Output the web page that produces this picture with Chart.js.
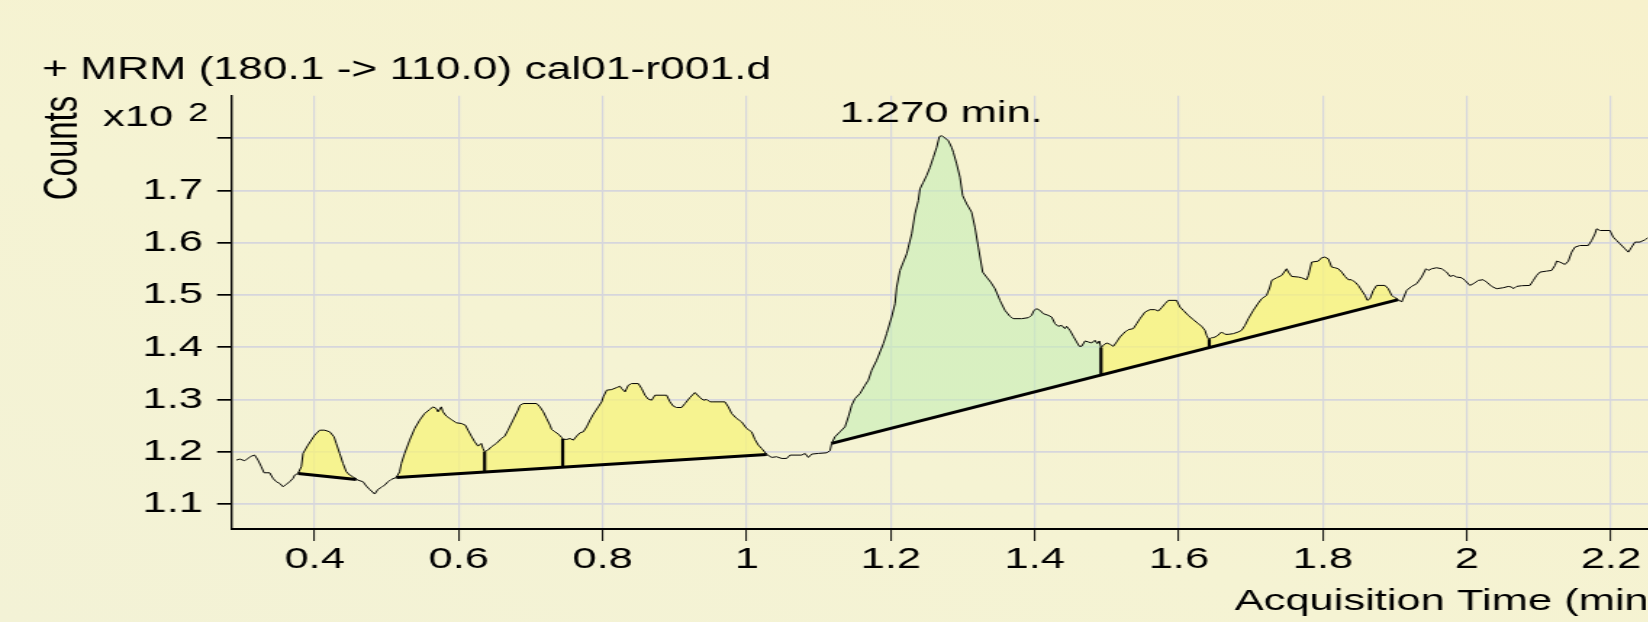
<!DOCTYPE html>
<html>
<head>
<meta charset="utf-8">
<title>MRM cal01-r001.d</title>
<script src="https://cdn.jsdelivr.net/npm/chart.js@4.4.1/dist/chart.umd.min.js"></script>
<style>
  html, body { margin: 0; padding: 0; }
  body {
    width: 1648px; height: 622px; overflow: hidden;
    background: linear-gradient(200deg, #f7f1cc 0%, #f5f3d3 60%, #f3f2d6 100%);
  }
  /* the instrument plot is rendered wide: draw at 1160 and stretch */
  #wrap {
    position: absolute; left: 0; top: 0;
    width: 1160px; height: 622px;
    transform: scaleX(1.45); transform-origin: 0 0;
  }
</style>
</head>
<body>
<div id="wrap"><canvas id="chrom"></canvas></div>
<script>
// trace: acquisition time (min) / counts (x10^2)
const traceTime = [
  0.2912, 0.2958, 0.3028, 0.3120, 0.3167, 0.3213, 0.3259, 0.3296, 0.3375, 0.3421,
  0.3467, 0.3514, 0.3560, 0.3606, 0.3652, 0.3699, 0.3722, 0.3768, 0.3814, 0.3838,
  0.3907, 0.4000, 0.4069, 0.4138, 0.4208, 0.4268, 0.4300, 0.4347, 0.4393, 0.4439,
  0.4486, 0.4532, 0.4578, 0.4624, 0.4671, 0.4717, 0.4763, 0.4833, 0.4879, 0.4925,
  0.4972, 0.5018, 0.5064, 0.5134, 0.5180, 0.5203, 0.5249, 0.5319, 0.5388, 0.5457,
  0.5527, 0.5596, 0.5643, 0.5689, 0.5712, 0.5758, 0.5781, 0.5828, 0.5897, 0.5967,
  0.6036, 0.6092, 0.6129, 0.6175, 0.6221, 0.6267, 0.6314, 0.6337, 0.6360, 0.6406,
  0.6453, 0.6522, 0.6592, 0.6638, 0.6684, 0.6754, 0.6823, 0.6851, 0.6897, 0.7082,
  0.7128, 0.7175, 0.7221, 0.7267, 0.7290, 0.7337, 0.7383, 0.7429, 0.7443, 0.7499,
  0.7545, 0.7591, 0.7637, 0.7684, 0.7730, 0.7776, 0.7822, 0.7869, 0.7938, 0.7985,
  0.8008, 0.8054, 0.8123, 0.8193, 0.8239, 0.8262, 0.8309, 0.8355, 0.8401, 0.8494,
  0.8540, 0.8586, 0.8632, 0.8679, 0.8725, 0.8887, 0.8933, 0.8980, 0.9026, 0.9095,
  0.9142, 0.9211, 0.9280, 0.9350, 0.9396, 0.9442, 0.9489, 0.9535, 0.9697, 0.9743,
  0.9790, 0.9859, 0.9928, 0.9998, 1.0067, 1.0113, 1.0160, 1.0206, 1.0276, 1.0345,
  1.0414, 1.0484, 1.0553, 1.0600, 1.0762, 1.0808, 1.0854, 1.0901, 1.0993, 1.1109,
  1.1155, 1.1178, 1.1224, 1.1294, 1.1363, 1.1410, 1.1456, 1.1502, 1.1572, 1.1641,
  1.1687, 1.1734, 1.1803, 1.1849, 1.1896, 1.1942, 1.2011, 1.2058, 1.2081, 1.2127,
  1.2173, 1.2220, 1.2243, 1.2289, 1.2335, 1.2382, 1.2405, 1.2451, 1.2497, 1.2544,
  1.2590, 1.2636, 1.2673, 1.2706, 1.2752, 1.2798, 1.2844, 1.2868, 1.2914, 1.2960,
  1.2997, 1.3053, 1.3122, 1.3168, 1.3215, 1.3275, 1.3330, 1.3386, 1.3446, 1.3515,
  1.3585, 1.3654, 1.3701, 1.3816, 1.3909, 1.3955, 1.3988, 1.4025, 1.4071, 1.4117,
  1.4187, 1.4233, 1.4279, 1.4325, 1.4372, 1.4418, 1.4441, 1.4487, 1.4534, 1.4580,
  1.4617, 1.4649, 1.4696, 1.4742, 1.4788, 1.4834, 1.4867, 1.4895, 1.4918, 1.4950,
  1.4996, 1.5043, 1.5089, 1.5135, 1.5182, 1.5251, 1.5297, 1.5367, 1.5413, 1.5459,
  1.5529, 1.5598, 1.5668, 1.5714, 1.5760, 1.5807, 1.5853, 1.5969, 1.6015, 1.6061,
  1.6130, 1.6200, 1.6269, 1.6315, 1.6362, 1.6385, 1.6408, 1.6422, 1.6454, 1.6478,
  1.6524, 1.6593, 1.6640, 1.6686, 1.6755, 1.6825, 1.6871, 1.6917, 1.6964, 1.7033,
  1.7102, 1.7149, 1.7218, 1.7264, 1.7288, 1.7357, 1.7426, 1.7496, 1.7519, 1.7565,
  1.7658, 1.7704, 1.7773, 1.7797, 1.7843, 1.7935, 1.7982, 1.8028, 1.8074, 1.8121,
  1.8167, 1.8213, 1.8260, 1.8306, 1.8352, 1.8398, 1.8445, 1.8491, 1.8537, 1.8584,
  1.8616, 1.8653, 1.8699, 1.8745, 1.8861, 1.8907, 1.8954, 1.9000, 1.9046, 1.9093,
  1.9162, 1.9231, 1.9301, 1.9370, 1.9430, 1.9463, 1.9509, 1.9578, 1.9648, 1.9717,
  1.9764, 1.9810, 1.9856, 1.9926, 1.9972, 2.0041, 2.0088, 2.0157, 2.0226, 2.0273,
  2.0342, 2.0412, 2.0504, 2.0574, 2.0620, 2.0643, 2.0689, 2.0759, 2.0874, 2.0921,
  2.0967, 2.1013, 2.1106, 2.1175, 2.1222, 2.1245, 2.1291, 2.1360, 2.1407, 2.1453,
  2.1499, 2.1569, 2.1684, 2.1731, 2.1777, 2.1800, 2.1847, 2.1985, 2.2031, 2.2078,
  2.2124, 2.2193, 2.2240, 2.2286, 2.2332, 2.2402, 2.2471, 2.2513
];
const traceCounts = [
  1.1841, 1.1861, 1.1829, 1.1918, 1.1937, 1.1841, 1.1714, 1.1599, 1.1599, 1.1491,
  1.1428, 1.1396, 1.1332, 1.1377, 1.1428, 1.1491, 1.1555, 1.1587, 1.1714, 1.1969,
  1.2128, 1.2319, 1.2414, 1.2414, 1.2383, 1.2287, 1.2160, 1.1969, 1.1778, 1.1619,
  1.1555, 1.1523, 1.1472, 1.1447, 1.1428, 1.1345, 1.1281, 1.1192, 1.1281, 1.1319,
  1.1364, 1.1428, 1.1472, 1.1510, 1.1619, 1.1778, 1.1969, 1.2224, 1.2446, 1.2606,
  1.2733, 1.2809, 1.2860, 1.2828, 1.2765, 1.2860, 1.2765, 1.2682, 1.2618, 1.2555,
  1.2542, 1.2510, 1.2414, 1.2300, 1.2192, 1.2109, 1.2160, 1.2065, 1.2001, 1.2033,
  1.2096, 1.2160, 1.2255, 1.2300, 1.2414, 1.2606, 1.2797, 1.2892, 1.2924, 1.2924,
  1.2860, 1.2765, 1.2637, 1.2510, 1.2427, 1.2383, 1.2338, 1.2275, 1.2243, 1.2236,
  1.2255, 1.2224, 1.2300, 1.2364, 1.2383, 1.2478, 1.2606, 1.2720, 1.2860, 1.2956,
  1.3051, 1.3179, 1.3191, 1.3230, 1.3255, 1.3210, 1.3147, 1.3274, 1.3306, 1.3306,
  1.3210, 1.3083, 1.3007, 1.2988, 1.3083, 1.3083, 1.2956, 1.2873, 1.2848, 1.2848,
  1.2924, 1.3039, 1.3134, 1.3039, 1.2988, 1.3001, 1.2956, 1.2956, 1.2956, 1.2860,
  1.2733, 1.2637, 1.2574, 1.2446, 1.2383, 1.2236, 1.2128, 1.2064, 1.1950, 1.1893,
  1.1905, 1.1873, 1.1873, 1.1937, 1.1937, 1.1969, 1.1893, 1.1956, 1.1969, 1.1981,
  1.2020, 1.2160, 1.2287, 1.2383, 1.2478, 1.2669, 1.2892, 1.3019, 1.3115, 1.3274,
  1.3370, 1.3561, 1.3752, 1.3911, 1.4070, 1.4261, 1.4579, 1.4834, 1.5152, 1.5471,
  1.5630, 1.5789, 1.5917, 1.6171, 1.6553, 1.6808, 1.7031, 1.7158, 1.7286, 1.7445,
  1.7636, 1.7827, 1.8031, 1.8050, 1.8005, 1.7954, 1.7827, 1.7731, 1.7509, 1.7254,
  1.6904, 1.6744, 1.6585, 1.6299, 1.5917, 1.5439, 1.5343, 1.5248, 1.5121, 1.4898,
  1.4707, 1.4592, 1.4548, 1.4548, 1.4567, 1.4611, 1.4707, 1.4739, 1.4707, 1.4643,
  1.4611, 1.4579, 1.4452, 1.4401, 1.4420, 1.4357, 1.4401, 1.4325, 1.4210, 1.4102,
  1.4019, 1.4019, 1.4121, 1.4102, 1.4083, 1.4134, 1.4070, 1.4121, 1.3994, 1.4038,
  1.4083, 1.4057, 1.4019, 1.4102, 1.4197, 1.4293, 1.4337, 1.4357, 1.4452, 1.4548,
  1.4675, 1.4720, 1.4720, 1.4694, 1.4758, 1.4834, 1.4898, 1.4898, 1.4770, 1.4707,
  1.4611, 1.4529, 1.4452, 1.4401, 1.4325, 1.4229, 1.4166, 1.4153, 1.4185, 1.4185,
  1.4210, 1.4293, 1.4248, 1.4248, 1.4261, 1.4293, 1.4325, 1.4420, 1.4548, 1.4707,
  1.4847, 1.4930, 1.4993, 1.5153, 1.5280, 1.5331, 1.5375, 1.5503, 1.5439, 1.5356,
  1.5344, 1.5331, 1.5293, 1.5375, 1.5630, 1.5649, 1.5713, 1.5726, 1.5694, 1.5535,
  1.5522, 1.5503, 1.5439, 1.5356, 1.5293, 1.5293, 1.5248, 1.5184, 1.5089, 1.4993,
  1.4898, 1.4930, 1.5089, 1.5184, 1.5184, 1.5121, 1.4993, 1.4949, 1.4911, 1.4866,
  1.5089, 1.5165, 1.5216, 1.5344, 1.5503, 1.5471, 1.5503, 1.5522, 1.5503, 1.5439,
  1.5356, 1.5375, 1.5344, 1.5331, 1.5280, 1.5184, 1.5216, 1.5280, 1.5293, 1.5248,
  1.5165, 1.5121, 1.5140, 1.5165, 1.5153, 1.5121, 1.5165, 1.5178, 1.5184, 1.5280,
  1.5375, 1.5439, 1.5458, 1.5471, 1.5566, 1.5649, 1.5630, 1.5585, 1.5649, 1.5821,
  1.5917, 1.5948, 1.5948, 1.6044, 1.6171, 1.6267, 1.6235, 1.6235, 1.6108, 1.6044,
  1.5981, 1.5886, 1.5821, 1.5917, 1.6013, 1.6013, 1.6057, 1.6096
];

// integrated peaks (start/end time), which baseline they sit on
const peakStart = [0.3768, 0.5134, 1.1178, 1.4918];
const peakEnd   = [0.4578, 1.0276, 1.4918, 1.9046];
const peakKind  = ['other', 'other', 'target', 'other'];
const peakBase  = [0, 1, 2, 2];

// integration baselines
const baseStartTime = [0.3768, 0.5134, 1.1178];
const baseEndTime   = [0.4578, 1.0276, 1.9046];
const baseStartVal  = [1.1587, 1.1510, 1.2160];
const baseEndVal    = [1.1472, 1.1950, 1.4911];

// drop lines between merged peaks
const splitTime = [0.6360, 0.7443, 1.4918, 1.6422];
const splitTop  = [1.2001, 1.2243, 1.3994, 1.4153];
const splitBase = [1.1620, 1.1708, 1.3475, 1.4000];

const xTicks = [0.4, 0.6, 0.8, 1, 1.2, 1.4, 1.6, 1.8, 2, 2.2];
const xTickLabels = ['0.4', '0.6', '0.8', '1', '1.2', '1.4', '1.6', '1.8', '2', '2.2'];
const yTicks = [1.1, 1.2, 1.3, 1.4, 1.5, 1.6, 1.7, 1.8];
const yTickLabels = ['1.1', '1.2', '1.3', '1.4', '1.5', '1.6', '1.7', ''];

const apexTime = 1.270;
const apexLabel = '1.270 min.';
const chartTitle = '+ MRM (180.1 -> 110.0) cal01-r001.d';

const FONT = "'Liberation Sans', Arial, sans-serif";
const GRID = '#d6d6dc';
const YELLOW = 'rgba(247, 243, 118, 0.72)';
const GREEN = 'rgba(198, 238, 182, 0.62)';

// --- datasets ---
const tracePts = traceTime.map((t, i) => ({ x: t, y: traceCounts[i] }));
const datasets = [];

datasets.push({
    label: 'trace',
    data: tracePts,
    borderColor: '#000',
    borderWidth: 1,
    pointRadius: 0,
    tension: 0,
    fill: false
});

const splitPts = [];
splitTime.forEach((t, i) => {
    splitPts.push({ x: t, y: splitTop[i] }, { x: t, y: splitBase[i] }, { x: t, y: null });
});
datasets.push({
    label: 'splits',
    data: splitPts,
    borderColor: '#000',
    borderWidth: 2.2,
    borderCapStyle: 'butt',
    pointRadius: 0,
    spanGaps: false,
    fill: false
});

const baseIndex = [];
baseStartTime.forEach((t, i) => {
    baseIndex.push(datasets.length);
    datasets.push({
        label: 'baseline ' + i,
        data: [{ x: t, y: baseStartVal[i] }, { x: baseEndTime[i], y: baseEndVal[i] }],
        borderColor: '#000',
        borderWidth: 3,
        pointRadius: 0,
        fill: false
    });
});

peakStart.forEach((t0, i) => {
    datasets.push({
        label: 'peak ' + i,
        data: tracePts.filter(p => p.x >= t0 && p.x <= peakEnd[i]),
        borderColor: 'rgba(0,0,0,0)',
        borderWidth: 1,
        backgroundColor: peakKind[i] === 'target' ? GREEN : YELLOW,
        pointRadius: 0,
        fill: { target: baseIndex[peakBase[i]] }
    });
});

// x10^2 multiplier and RT label
const chromLabels = {
    id: 'chromLabels',
    afterDraw(chart) {
        const { ctx, chartArea, scales: { x, y } } = chart;
        ctx.save();
        ctx.fillStyle = '#000';
        ctx.textBaseline = 'middle';
        ctx.textAlign = 'left';
        ctx.font = `30px ${FONT}`;
        ctx.fillText('x10', chartArea.left - 89, chartArea.top + 22.3);
        ctx.font = `25px ${FONT}`;
        ctx.fillText('2', chartArea.left - 30.3, chartArea.top + 18.4);

        const apexVal = Math.max(...traceCounts);
        ctx.font = `30px ${FONT}`;
        ctx.textAlign = 'center';
        ctx.fillText(apexLabel, x.getPixelForValue(apexTime), y.getPixelForValue(apexVal) - 22);
        ctx.restore();
    }
};

const tickFont = { family: FONT, size: 30 };

new Chart(document.getElementById('chrom'), {
    type: 'line',
    data: { datasets },
    plugins: [chromLabels],
    options: {
        responsive: true,
        maintainAspectRatio: false,
        animation: false,
        devicePixelRatio: 1,
        events: [],
        layout: { padding: { left: 29, right: 13, top: 0, bottom: 0 } },
        scales: {
            x: {
                type: 'linear',
                min: 0.2852,
                max: 2.2724,
                afterBuildTicks: s => { s.ticks = xTicks.map(v => ({ value: v })); },
                afterFit: s => { s.height = 93; },
                grid: { color: GRID, lineWidth: 1.2, tickColor: '#000', tickWidth: 1, tickLength: 12 },
                border: { display: true, color: '#000', width: 2 },
                ticks: {
                    font: tickFont, color: '#000', padding: 1,
                    maxRotation: 0, autoSkip: false,
                    callback: (v, i) => xTickLabels[i]
                },
                title: {
                    display: true, text: 'Acquisition Time (min)', align: 'end',
                    font: tickFont, color: '#000', padding: { top: 0, bottom: 2 }
                }
            },
            y: {
                type: 'linear',
                min: 1.0523,
                max: 1.8814,
                afterBuildTicks: s => { s.ticks = yTicks.map(v => ({ value: v })); },
                afterFit: s => { s.width = 131; },
                grid: { color: GRID, lineWidth: 1.7, tickColor: '#000', tickWidth: 1.7, tickLength: 10.3 },
                border: { display: true, color: '#000', width: 1.4 },
                ticks: {
                    font: tickFont, color: '#000', padding: 9.7,
                    callback: (v, i) => yTickLabels[i]
                },
                title: {
                    display: true, text: 'Counts', align: 'end',
                    font: { family: FONT, size: 33 }, color: '#000',
                    padding: { top: -5, bottom: 0 }
                }
            }
        },
        plugins: {
            legend: { display: false },
            tooltip: { enabled: false },
            title: {
                display: true,
                text: chartTitle,
                align: 'start',
                color: '#000',
                font: { family: FONT, size: 30.6, weight: 'normal' },
                padding: { top: 52, bottom: 7 }
            }
        }
    }
});
</script>
</body>
</html>
